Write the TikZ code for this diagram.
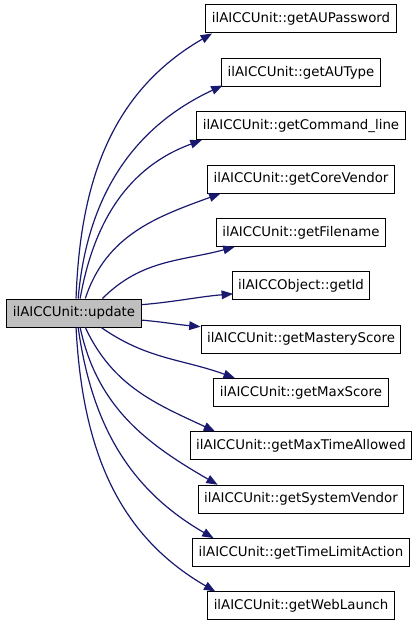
\documentclass[tikz,border=0pt]{standalone}
\usepackage{fontspec}
\setmainfont{DejaVu Sans}
\usetikzlibrary{arrows.meta}
\definecolor{edgeblue}{HTML}{191970}
\definecolor{nodegray}{HTML}{BFBFBF}
\begin{document}
\begin{tikzpicture}[x=0.75pt,y=0.75pt]
		\tikzstyle{fn}=[draw=black,line width=0.75pt,fill=white,font=\fontsize{10}{12}\selectfont,inner xsep=4.5pt,inner ysep=0pt,minimum height=21pt]
		\tikzstyle{cur}=[fn,fill=nodegray]
		\tikzstyle{myarrow}=[edgeblue,line width=0.9pt,-{Triangle[length=8.5pt,width=6.5pt]}]
		\useasboundingbox (0,0) rectangle (416,-627);

		\node[cur] (upd) at (74,-313) {ilAICCUnit::update};

		\foreach \i/\t in {1/ilAICCUnit::getAUPassword,2/ilAICCUnit::getAUType,3/ilAICCUnit::getCommand\_line,4/ilAICCUnit::getCoreVendor,5/ilAICCUnit::getFilename,6/ilAICCObject::getId,7/ilAICCUnit::getMasteryScore,8/ilAICCUnit::getMaxScore,9/ilAICCUnit::getMaxTimeAllowed,10/ilAICCUnit::getSystemVendor,11/ilAICCUnit::getTimeLimitAction,12/ilAICCUnit::getWebLaunch} { 
			\node[fn] (f\i) at (301,{-19-53.36*(\i-1)}) {\t};
		}

		% start angle / end anchor / shift / out / in
		\foreach \i/\a/\c/\sx/\sy/\o/\n in {1/82/south west/5/0/88/210,2/74/south west/1/1/85/205,3/67/south west/4/0/80/200,4/52/south west/10/0/72/200,5/27/south west/14/0/45/195,6/7/west/1/-6/5/185,7/-6/north west/0/-1.5/-5/175,8/-28/north west/16/0/-35/160,9/-52/north west/19/0/-65/155,10/-67/north west/15/0/-78/150,11/-74/north west/16/0/-82/150,12/-82/north west/6/0/-87/150} {
			\draw[myarrow] (upd.\a) to[out=\o,in=\n] ([xshift=\sx pt,yshift=\sy pt]f\i.\c);
		}
	\end{tikzpicture}
\end{document}
